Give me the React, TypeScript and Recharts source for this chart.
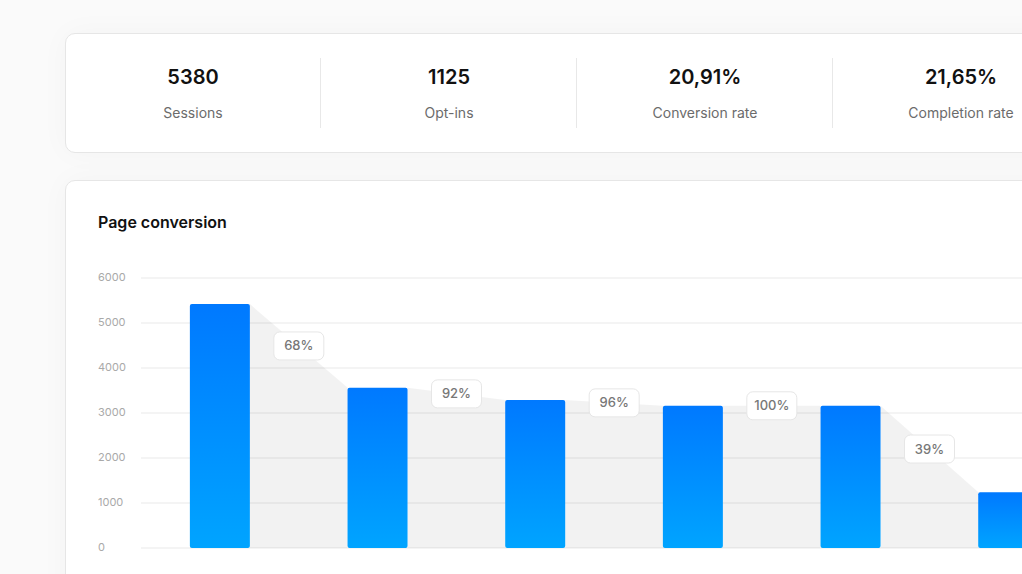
import { BarChart, Bar, XAxis, YAxis, CartesianGrid } from "recharts";

const statValues = ["5380", "1125", "20,91%", "21,65%"];
const statLabels = ["Sessions", "Opt-ins", "Conversion rate", "Completion rate"];

const pages = ["Page 1", "Page 2", "Page 3", "Page 4", "Page 5", "Page 6"];
const visits = [5420, 3560, 3290, 3160, 3160, 1240];
const stepRates = ["68%", "92%", "96%", "100%", "39%"];
const yTicks = [0, 1000, 2000, 3000, 4000, 5000, 6000];

const data = pages.map((name, i) => ({
  name,
  value: visits[i],
  next: i < visits.length - 1 ? visits[i + 1] : null,
  rate: stepRates[i] ?? null,
}));

const FONT = "Inter, 'Noto Sans', sans-serif";
const GAP = 0.31; // barCategoryGap as a fraction of the band

function FunnelBar(props: any) {
  const { x, y, width, height, payload } = props;
  const base = y + height;
  const band = width / (1 - 2 * GAP);
  let funnel = null;
  let pill = null;
  if (payload.next != null && payload.value > 0) {
    const nx = x + band;
    const ny = base - (height * payload.next) / payload.value;
    const x0 = x + width;
    funnel = (
      <polygon
        points={`${x0},${y} ${nx},${ny} ${nx},${base} ${x0},${base}`}
        fill="rgba(0,0,0,0.05)"
      />
    );
    const cx = (x0 + nx) / 2;
    const cy = (y + ny) / 2;
    pill = (
      <g>
        <rect x={cx - 25} y={cy - 14} width={50} height={28} rx={6} fill="#fff" stroke="#e6e6e6" />
        <text x={cx} y={cy + 1} textAnchor="middle" dominantBaseline="middle" fontSize={13} fontWeight={500} fill="#777" fontFamily={FONT}>
          {payload.rate}
        </text>
      </g>
    );
  }
  return (
    <g>
      {funnel}
      <rect x={x} y={y} width={width} height={height} rx={2} fill="url(#barGrad)" />
      {pill}
    </g>
  );
}

function LeftTick(props: any) {
  const { y, payload } = props;
  return (
    <text x={1} y={y} textAnchor="start" dominantBaseline="middle" fontSize={11} fill="#a9a9a9" fontFamily={FONT}>
      {String(payload.value)}
    </text>
  );
}

export default function App() {
  return (
    <div style={{ position: "fixed", left: 0, top: 0, width: 1022, height: 574, overflow: "hidden", background: "#fafafa", fontFamily: FONT }}>
      <div style={{ position: "absolute", left: 65, top: 33, width: 1100, height: 120, boxSizing: "border-box", background: "#fff", border: "1px solid #e6e6e6", borderRadius: 10, boxShadow: "0 0 30px rgba(0,0,0,0.03)" }}>
        {statValues.map((v, i) => (
          <div key={v} style={{ position: "absolute", left: i * 256 - 1, top: 0, width: 256, height: 118 }}>
            <div style={{ position: "absolute", top: 31, width: "100%", textAlign: "center", fontSize: 20, fontWeight: 600, color: "#111", lineHeight: "24px" }}>{v}</div>
            <div style={{ position: "absolute", top: 69, width: "100%", textAlign: "center", fontSize: 14, color: "#6b6b6b", lineHeight: "20px" }}>{statLabels[i]}</div>
            {i < statValues.length - 1 && (
              <div style={{ position: "absolute", right: 0, top: 24, width: 1, height: 70, background: "#e8e8e8" }} />
            )}
          </div>
        ))}
      </div>
      <div style={{ position: "absolute", left: 65, top: 180, width: 1100, height: 500, boxSizing: "border-box", background: "#fff", border: "1px solid #e6e6e6", borderRadius: 10, boxShadow: "0 0 30px rgba(0,0,0,0.03)" }}>
        <div style={{ position: "absolute", left: 32, top: 30, fontSize: 16, fontWeight: 600, color: "#111", lineHeight: "22px" }}>Page conversion</div>
      </div>
      <div style={{ position: "absolute", left: 97, top: 268 }}>
        <BarChart width={990} height={285} data={data} margin={{ top: 10, right: 0, bottom: 5, left: 0 }} barCategoryGap={`${GAP * 100}%`}>
          <defs>
            <linearGradient id="barGrad" x1="0" y1="0" x2="0" y2="1">
              <stop offset="0%" stopColor="#0079ff" />
              <stop offset="100%" stopColor="#00a4ff" />
            </linearGradient>
          </defs>
          <CartesianGrid vertical={false} stroke="#e9e9e9" />
          <XAxis dataKey="name" hide />
          <YAxis width={44} domain={[0, 6000]} ticks={yTicks} interval={0} axisLine={false} tickLine={false} tick={<LeftTick />} />
          <Bar dataKey="value" shape={<FunnelBar />} isAnimationActive={false} />
        </BarChart>
      </div>
    </div>
  );
}
